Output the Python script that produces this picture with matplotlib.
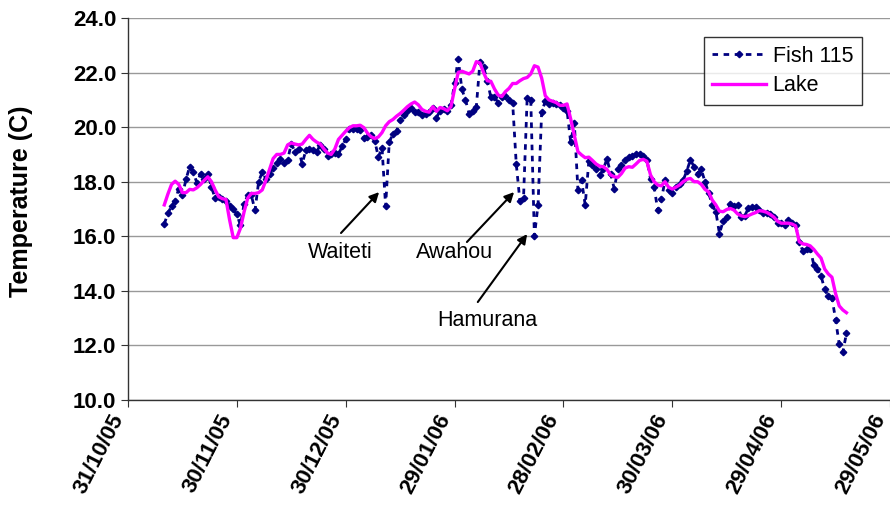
import datetime as dt

import numpy as np
import pandas as pd
import matplotlib
matplotlib.use("Agg")
import matplotlib.pyplot as plt
import matplotlib.dates as mdates

plt.rcParams['font.family'] = ['Liberation Sans', 'DejaVu Sans']

# daily readings, 10/11/05 onwards
start = "2005-11-10"

fish_115 = [
    16.45, 16.85, 17.1, 17.3, 17.75, 17.5, 18.1, 18.55, 18.35, 17.95,
    18.3, 18.1, 18.3, 17.8, 17.4, 17.45, 17.35, 17.3, 17.1, 17.0,
    16.8, 16.4, 17.2, 17.5, 17.5, 16.95, 18.0, 18.35, 18.1, 18.3,
    18.5, 18.7, 18.85, 18.7, 18.8, 19.4, 19.1, 19.2, 18.65, 19.15,
    19.2, 19.15, 19.1, 19.35, 19.2, 18.95, 19.0, 19.05, 19.0, 19.3,
    19.55, 19.95, 19.95, 19.95, 19.9, 19.6, 19.65, 19.7, 19.5, 18.9,
    19.25, 17.1, 19.45, 19.75, 19.85, 20.25, 20.45, 20.6, 20.7, 20.55,
    20.55, 20.45, 20.5, 20.55, 20.7, 20.35, 20.6, 20.65, 20.6, 20.8,
    21.6, 22.5, 21.4, 21.0, 20.5, 20.6, 20.75, 22.4, 22.2, 21.7,
    21.1, 21.1, 20.9, 21.1, 21.15, 21.0, 20.9, 18.65, 17.3, 17.4,
    21.05, 21.0, 16.0, 17.15, 20.55, 20.95, 20.85, 20.9, 20.85, 20.8,
    20.7, 20.6, 19.45, 20.15, 17.7, 18.05, 17.15, 18.75, 18.6, 18.45,
    18.25, 18.45, 18.85, 18.3, 17.75, 18.45, 18.6, 18.8, 18.9, 18.95,
    19.0, 19.0, 18.95, 18.8, 18.1, 17.8, 16.95, 17.35, 18.05, 17.7,
    17.6, 17.8, 17.9, 18.05, 18.4, 18.8, 18.55, 18.3, 18.45, 18.0,
    17.6, 17.15, 16.9, 16.1, 16.55, 16.7, 17.2, 17.1, 17.15, 16.72,
    16.75, 17.05, 17.08, 17.08, 16.95, 16.85, 16.85, 16.8, 16.7, 16.5,
    16.5, 16.4, 16.6, 16.5, 16.4, 15.8, 15.45, 15.55, 15.55, 14.95,
    14.8, 14.55, 14.05, 13.8, 13.75, 12.95, 12.05, 11.75, 12.45,
]

lake = [
    17.15, 17.55, 17.9, 18.02, 17.9, 17.6, 17.6, 17.72, 17.7, 17.78,
    17.9, 18.05, 18.18, 18.0, 17.7, 17.45, 17.38, 17.35, 16.6, 15.95,
    15.95, 16.3, 16.9, 17.4, 17.57, 17.57, 17.6, 17.7, 18.05, 18.45,
    18.85, 19.0, 19.0, 19.05, 19.35, 19.42, 19.38, 19.35, 19.38, 19.55,
    19.7, 19.55, 19.45, 19.38, 19.2, 19.05, 19.0, 19.2, 19.55, 19.7,
    19.85, 19.98, 20.05, 20.05, 20.07, 19.98, 19.78, 19.65, 19.58, 19.64,
    19.8, 20.05, 20.2, 20.28, 20.4, 20.5, 20.62, 20.75, 20.85, 20.92,
    20.82, 20.65, 20.58, 20.55, 20.75, 20.58, 20.72, 20.68, 20.6, 20.75,
    21.4, 22.0, 22.05, 22.0, 21.95, 22.05, 22.4, 22.35, 22.0, 21.7,
    21.68, 21.4, 21.18, 21.12, 21.3, 21.42, 21.6, 21.6, 21.7, 21.78,
    21.82, 21.95, 22.25, 22.2, 21.8, 21.15, 21.0, 20.95, 20.9, 20.8,
    20.8, 20.85, 20.3, 19.7, 19.1, 18.98, 18.88, 18.9, 18.78, 18.65,
    18.57, 18.55, 18.45, 18.25, 18.18, 18.16, 18.3, 18.5, 18.55, 18.53,
    18.65, 18.78, 18.82, 18.75, 18.25, 18.0, 17.88, 17.85, 18.0, 17.8,
    17.73, 17.8, 17.88, 18.0, 18.09, 18.12, 18.0, 18.0, 17.9, 17.72,
    17.63, 17.33, 17.15, 16.92, 16.9, 16.98, 17.02, 16.96, 16.82, 16.75,
    16.72, 16.76, 16.82, 16.87, 16.94, 16.92, 16.88, 16.8, 16.7, 16.55,
    16.48, 16.48, 16.48, 16.45, 16.38, 15.8, 15.72, 15.7, 15.65, 15.52,
    15.35, 15.2, 14.8, 14.62, 14.5, 13.9, 13.45, 13.3, 13.2,
]

tick_dates = pd.date_range("2005-10-31", periods=8, freq="30D")

# (label, text pos, arrow tail, arrow tip) as (days after 31/10/05, temp)
notes = [
    ("Waiteti", (58.4, 15.39), (58.7, 16.12), (69.2, 17.62)),
    ("Awahou", (90.1, 15.39), (93.4, 15.79), (106.4, 17.62)),
    ("Hamurana", (98.9, 12.93), (96.4, 13.59), (110.0, 16.08)),
]

dates = pd.date_range(start, periods=len(fish_115), freq="D")
base = mdates.date2num(dt.datetime(2005, 10, 31))

fig = plt.figure(figsize=(8.9, 5.14), dpi=100)
ax = fig.add_axes([128 / 890, 1 - 400 / 514, 762 / 890, 382 / 514])

ax.plot(dates, fish_115, color="#000080", lw=2, linestyle=(0, (2, 2)),
        marker="D", markersize=3.3, label="Fish 115")
ax.plot(dates, lake, color="#FF00FF", lw=2.4, label="Lake")

ax.set_xlim(tick_dates[0], tick_dates[-1])
ax.set_ylim(10, 24)
ax.set_yticks(np.arange(10, 24.1, 2))
ax.set_yticklabels([f"{v:.1f}" for v in np.arange(10, 24.1, 2)])
ax.set_xticks(tick_dates)
ax.set_xticklabels([d.strftime("%d/%m/%y") for d in tick_dates],
                   rotation=63, ha="right", va="top")

ax.yaxis.grid(True, color="#999999", lw=1)
ax.set_axisbelow(True)
for s in ["top", "right"]:
    ax.spines[s].set_visible(False)
for s in ["left", "bottom"]:
    ax.spines[s].set_color("#333333")
    ax.spines[s].set_linewidth(1)

ax.tick_params(axis="both", length=5, color="#333333", labelsize=16)
ax.tick_params(axis="x", pad=3)
for lab in ax.get_xticklabels() + ax.get_yticklabels():
    lab.set_fontweight("bold")

ax.set_ylabel("Temperature (C)", fontsize=18, fontweight="bold")
ax.yaxis.set_label_coords(-0.125, 0.52)

for name, txt, tail, tip in notes:
    ax.text(base + txt[0], txt[1], name, fontsize=15.5, ha="center", va="center")
    ax.annotate("", xy=(base + tip[0], tip[1]), xytext=(base + tail[0], tail[1]),
                arrowprops=dict(arrowstyle="-|>", color="black", lw=1.5,
                                mutation_scale=14, shrinkA=0, shrinkB=0))

leg = ax.legend(loc="upper right", bbox_to_anchor=(0.963, 0.95), fontsize=15.5,
                handlelength=2.5, frameon=True, fancybox=False, borderpad=0.4,
                borderaxespad=0, labelspacing=0.4, handletextpad=0.3)
leg.get_frame().set_edgecolor("black")
leg.get_frame().set_linewidth(1)

fig.savefig("out.png", dpi=100)
